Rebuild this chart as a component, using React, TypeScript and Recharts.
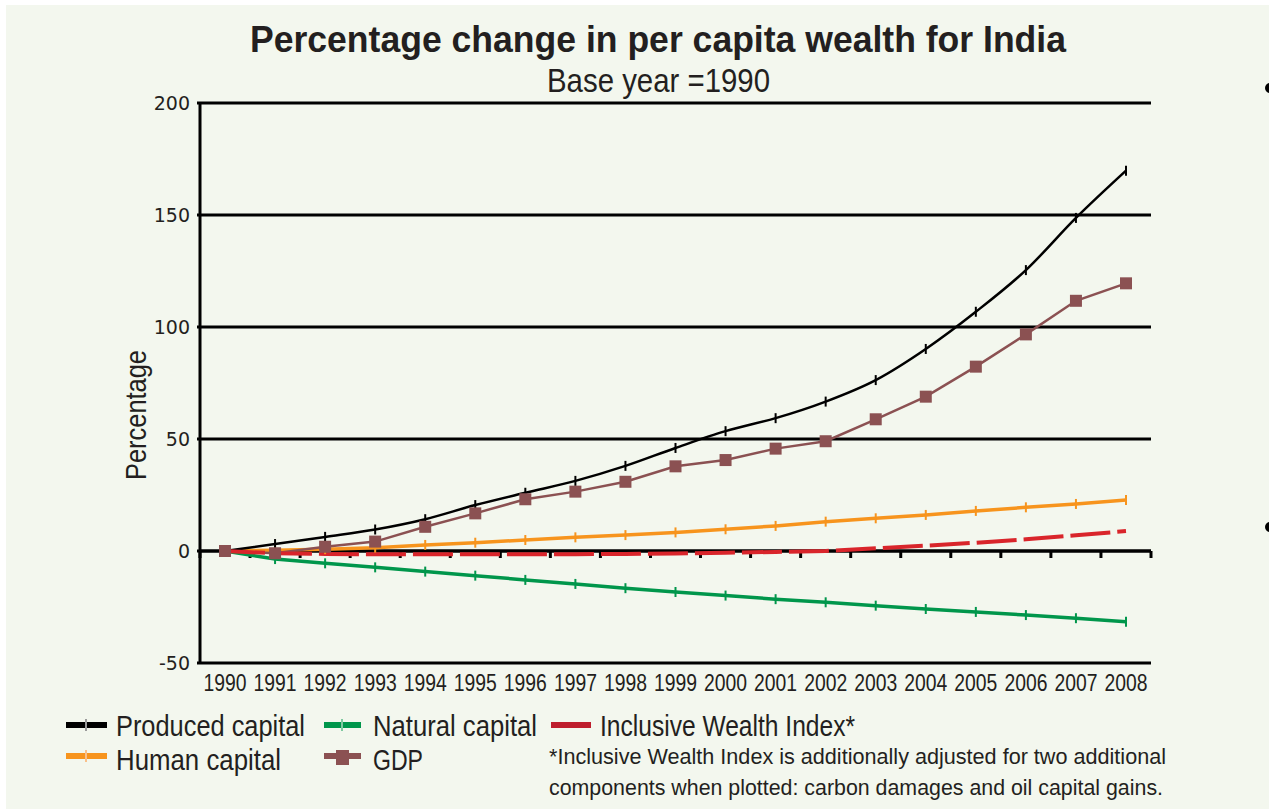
import React from 'react';
import { LineChart, Line, XAxis, YAxis, CartesianGrid, ReferenceLine } from 'recharts';

const years = ['1990','1991','1992','1993','1994','1995','1996','1997','1998','1999','2000','2001','2002','2003','2004','2005','2006','2007','2008'];
const producedCapital = [0, 3.1, 6.3, 9.6, 14.2, 20.5, 26.0, 31.3, 38.0, 46.0, 53.5, 59.3, 66.7, 76.3, 90.2, 106.8, 125.4, 148.7, 169.8];
const humanCapital = [0, 0.3, 0.8, 1.5, 2.7, 3.7, 4.9, 6.1, 7.1, 8.3, 9.7, 11.2, 13.1, 14.6, 16.1, 17.9, 19.5, 21.0, 22.8];
const naturalCapital = [0, -3.6, -5.5, -7.3, -9.2, -11.0, -12.9, -14.7, -16.6, -18.3, -19.9, -21.5, -22.9, -24.4, -25.9, -27.2, -28.6, -30.0, -31.6];
const gdp = [0, -1.0, 1.9, 4.2, 10.8, 16.8, 23.1, 26.5, 30.9, 37.8, 40.6, 45.7, 49.0, 58.8, 68.9, 82.3, 96.7, 111.7, 119.5];
const inclusiveWealth = [0, -1.0, -1.3, -1.5, -1.5, -1.5, -1.5, -1.4, -1.3, -1.1, -0.8, -0.4, 0.0, 1.2, 2.4, 3.7, 5.2, 7.0, 8.9];
const yTicks = [-50, 0, 50, 100, 150, 200];

const data = years.map((year, i) => ({
  year,
  produced: producedCapital[i],
  human: humanCapital[i],
  natural: naturalCapital[i],
  gdp: gdp[i],
  iwi: inclusiveWealth[i],
}));

const BG = '#f3f7ee';
const TEXT = '#231f20';
const SANS = '"Liberation Sans", Arial, sans-serif';
const C_BLACK = '#000000';
const C_ORANGE = '#f7941d';
const C_GREEN = '#00964b';
const C_RED = '#d9252b';
const C_GDP = '#8b5152';

const PlusDot = (props: any) => {
  const { cx, cy, stroke } = props;
  if (cx == null || cy == null) return null;
  return (
    <g>
      <line x1={cx} y1={cy - 5} x2={cx} y2={cy + 5} stroke={stroke} strokeWidth={2} />
    </g>
  );
};

const SquareDot = (props: any) => {
  const { cx, cy } = props;
  if (cx == null || cy == null) return null;
  return <rect x={cx - 6} y={cy - 6} width={12} height={12} fill={C_GDP} />;
};

const ZeroLine = (props: any) => {
  const { x1, x2, y1 } = props;
  if (x1 == null) return null;
  const n = years.length;
  const step = (x2 - x1) / n;
  const ticks = [];
  for (let i = 0; i <= n; i++) {
    const x = x1 + i * step;
    ticks.push(<line key={i} x1={x} y1={y1} x2={x} y2={y1 + 7} stroke="#000" strokeWidth={3} />);
  }
  return (
    <g>
      <line x1={x1} y1={y1} x2={x2} y2={y1} stroke="#000" strokeWidth={3} />
      {ticks}
    </g>
  );
};

const XTick = (props: any) => {
  const { x, y, payload } = props;
  return (
    <text x={x} y={y + 28} textAnchor="middle" fontFamily={SANS} fontSize={24} fill={TEXT} textLength={43} lengthAdjust="spacingAndGlyphs">
      {payload.value}
    </text>
  );
};

const T = (p: any) => (
  <text x={p.x} y={p.y} fontFamily={SANS} fontSize={p.size} fontWeight={p.bold ? 'bold' : 'normal'} fill={TEXT}
    textAnchor={p.anchor || 'start'} textLength={p.len} lengthAdjust="spacingAndGlyphs" transform={p.transform}>
    {p.children}
  </text>
);

export default function App() {
  return (
    <div style={{ position: 'absolute', left: 0, top: 0, width: 1269, height: 809, background: '#ffffff', overflow: 'hidden' }}>
      <div style={{ position: 'absolute', left: 6, top: 5, right: 0, bottom: 0, background: BG }} />
      <div style={{ position: 'absolute', left: 0, top: 0 }}>
        <LineChart width={1269} height={809} data={data} margin={{ top: 103, right: 118, bottom: 0, left: 0 }}>
          <CartesianGrid horizontal vertical={false} stroke="#000" strokeWidth={3} strokeOpacity={1} />
          <XAxis
            dataKey="year"
            height={146}
            padding={{ left: 25, right: 25 }}
            axisLine={false}
            tickLine={false}
            tickSize={0}
            tickMargin={0}
            interval={0}
            tick={<XTick />}
          />
          <YAxis
            domain={[-50, 200]}
            ticks={yTicks}
            width={200}
            axisLine={{ stroke: '#000', strokeWidth: 3 }}
            tickLine={{ stroke: '#000', strokeWidth: 3 }}
            tickSize={3}
            tickMargin={7}
            tick={{ fill: TEXT, fontSize: 19, fontFamily: '"DejaVu Sans", sans-serif' }}
          />
          <ReferenceLine y={0} shape={ZeroLine} />
          <Line dataKey="natural" stroke={C_GREEN} strokeWidth={3.5} dot={<PlusDot stroke={C_GREEN} />} isAnimationActive={false} />
          <Line dataKey="human" stroke={C_ORANGE} strokeWidth={3.5} dot={<PlusDot stroke={C_ORANGE} />} isAnimationActive={false} />
          <Line dataKey="produced" type="monotone" stroke={C_BLACK} strokeWidth={2.5} dot={<PlusDot stroke={C_BLACK} />} isAnimationActive={false} />
          <Line dataKey="gdp" stroke={C_GDP} strokeWidth={2.5} dot={<SquareDot />} isAnimationActive={false} />
          <Line dataKey="iwi" stroke={C_RED} strokeWidth={4} strokeDasharray="40 7" dot={false} isAnimationActive={false} />
        </LineChart>
      </div>
      <svg width={1269} height={809} style={{ position: 'absolute', left: 0, top: 0, pointerEvents: 'none' }}>
        <T x={250} y={52} size={37} bold len={816}>Percentage change in per capita wealth for India</T>
        <T x={547} y={92} size={33} len={223}>Base year =1990</T>
        <T x={0} y={0} size={29} anchor="middle" len={130} transform="translate(146,415) rotate(-90)">Percentage</T>
        <circle cx={1270} cy={88} r={5} fill="#000" />
        <circle cx={1270} cy={527} r={5} fill="#000" />

        <line x1={66} y1={725} x2={107} y2={725} stroke={C_BLACK} strokeWidth={6} />
        <line x1={86} y1={719} x2={86} y2={731} stroke="#9a9a9a" strokeWidth={2} />
        <T x={116} y={736} size={29} len={189}>Produced capital</T>
        <line x1={324} y1={725} x2={361} y2={725} stroke={C_GREEN} strokeWidth={6} />
        <line x1={342} y1={719} x2={342} y2={731} stroke="#7fc9a0" strokeWidth={2} />
        <T x={373} y={736} size={29} len={164}>Natural capital</T>
        <line x1={551} y1={725} x2={591} y2={725} stroke="#be1e2d" strokeWidth={6} />
        <T x={600} y={736} size={29} len={255}>Inclusive Wealth Index*</T>

        <line x1={66} y1={756} x2={107} y2={756} stroke={C_ORANGE} strokeWidth={6} />
        <line x1={86} y1={750} x2={86} y2={762} stroke="#f9c08a" strokeWidth={2} />
        <T x={116} y={770} size={29} len={165}>Human capital</T>
        <line x1={324} y1={756} x2={361} y2={756} stroke={C_GDP} strokeWidth={6} />
        <rect x={336} y={750} width={13} height={15} fill={C_GDP} />
        <T x={373} y={770} size={29} len={50}>GDP</T>

        <T x={549} y={764} size={22} len={617}>*Inclusive Wealth Index is additionally adjusted for two additional</T>
        <T x={549} y={795} size={22} len={614}>components when plotted: carbon damages and oil capital gains.</T>
      </svg>
    </div>
  );
}
